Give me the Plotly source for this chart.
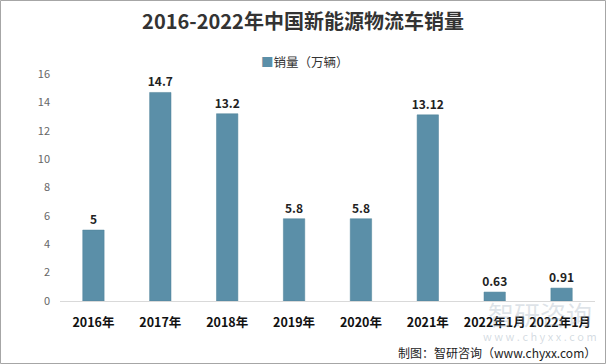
import plotly.graph_objects as go

categories = ["2016年", "2017年", "2018年", "2019年", "2020年", "2021年", "2022年1月", "2022年1月 "]
sales = [5, 14.7, 13.2, 5.8, 5.8, 13.12, 0.63, 0.91]
labels = ["5", "14.7", "13.2", "5.8", "5.8", "13.12", "0.63", "0.91"]
y_ticks = [0, 2, 4, 6, 8, 10, 12, 14, 16]

W, H = 606, 364
L, R, T, B = 60, 11, 74, 63
pw, ph = W - L - R, H - T - B

def px_x(p):
    return (p - L) / pw

def px_y(p):
    return (H - B - p) / ph

font = "Noto Sans CJK SC, Microsoft YaHei, sans-serif"
bar_color = "#5b8fa8"

fig = go.Figure()
fig.add_trace(go.Bar(
    x=categories, y=sales, name="销量（万辆）",
    marker=dict(color=bar_color, line=dict(color="#4f8199", width=0.5)),
    text=["<b>%s</b>" % t for t in labels], textposition="outside",
    constraintext="none",
    textfont=dict(size=12, color="#222", family=font),
    cliponaxis=False,
    showlegend=False,
))

fig.update_layout(
    width=W, height=H,
    margin=dict(l=L, r=R, t=T, b=B),
    paper_bgcolor="white", plot_bgcolor="white",
    font=dict(family=font),
    bargap=0.68,
    showlegend=False,
    title=dict(text="<b>2016-2022年中国新能源物流车销量</b>", x=0.5, xanchor="center",
               y=1 - 22 / H, yanchor="middle", font=dict(size=20, color="#333", family=font)),
    xaxis=dict(showline=True, linecolor="#d9d9d9", linewidth=1, ticks="",
               tickfont=dict(size=12.5, color="#111", family=font), tickprefix="<b>", ticksuffix="</b>",
               ticklabelstandoff=10, automargin=False),
    yaxis=dict(range=[0, 16], tickvals=y_ticks, showgrid=False, zeroline=False,
               tickfont=dict(size=11, color="#666"), ticks="", ticklabelstandoff=9,
               automargin=False),
    shapes=[dict(type="rect", xref="paper", yref="paper",
                 x0=px_x(0.5), x1=px_x(W - 0.5), y0=px_y(H - 0.5), y1=px_y(0.5),
                 line=dict(color="#a6a6a6", width=1), fillcolor="rgba(0,0,0,0)", layer="below")],
    annotations=[
        dict(text='<span style="color:%s">■</span>销量（万辆）' % bar_color, xref="paper", yref="paper",
             x=px_x(305), y=px_y(61), xanchor="center", yanchor="middle", showarrow=False,
             font=dict(size=12.5, color="#333", family=font)),
        dict(text="智研咨询", xref="paper", yref="paper",
             x=px_x(540), y=px_y(313), xanchor="center", yanchor="middle", showarrow=False,
             font=dict(size=26, color="rgba(160,175,190,0.35)", family=font)),
        dict(text="w w w . c h y x x . c o m", xref="paper", yref="paper",
             x=px_x(540), y=px_y(336), xanchor="center", yanchor="middle", showarrow=False,
             font=dict(size=11, color="rgba(160,175,190,0.45)", family=font)),
        dict(text="制图：智研咨询（www.chyxx.com）", xref="paper", yref="paper",
             x=px_x(598), y=px_y(352), xanchor="right", yanchor="middle", showarrow=False,
             font=dict(size=12, color="#222", family=font)),
    ],
)

fig.write_html("out.html", config={"displayModeBar": False},
               post_script="document.body.style.margin='0';document.body.style.padding='0';")
